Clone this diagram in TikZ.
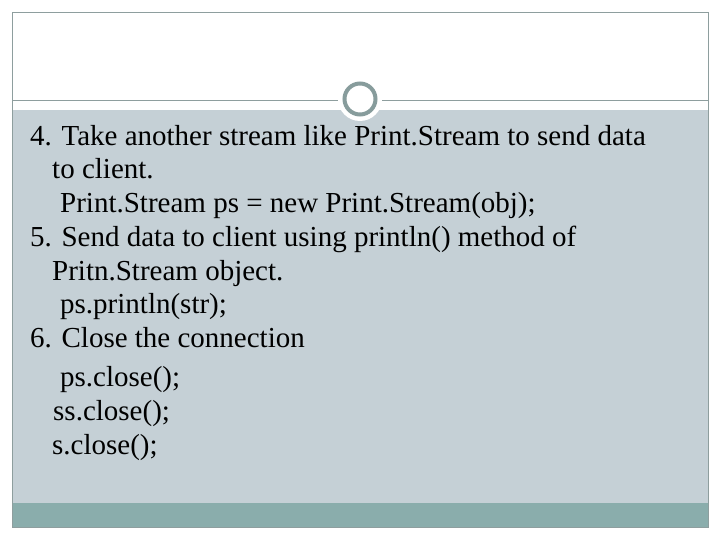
\documentclass[tikz,border=0pt]{standalone}
\usepackage{fontspec}
\setmainfont{Liberation Serif}
\definecolor{bodyc}{HTML}{C5D0D6}
\definecolor{barc}{HTML}{8AADAC}
\definecolor{ringc}{HTML}{879C9C}
\definecolor{edgec}{HTML}{8E9E9E}
\begin{document}
\begin{tikzpicture}[x=1pt,y=-1pt,
  ln/.style={anchor=base west,inner sep=0,font=\fontsize{29}{32}\selectfont}]
\useasboundingbox (0,0) rectangle (720,540);
\fill[white] (0,0) rectangle (720,540);
\fill[bodyc] (12,110) rectangle (708,503);
\fill[barc] (12,503) rectangle (708,527);
\draw[edgec,line width=0.8] (12,12) rectangle (708,527);
\draw[edgec,line width=0.8] (12,100) -- (708,100);
\fill[white] (360,99) circle (22);
\draw[ringc,line width=4] (360,99) circle (15.5);
\node[ln] (l1) at (30,146) {4. Take another stream like Print.Stream to send data};
\node[ln] (l2) at (52,179) {to client.};
\node[ln] (l3) at (60,213) {Print.Stream ps = new Print.Stream(obj);};
\node[ln] (l4) at (30,247) {5. Send data to client using println() method of};
\node[ln] (l5) at (52,280) {Pritn.Stream object.};
\node[ln] (l6) at (60,313) {ps.println(str);};
\node[ln] (l7) at (30,347) {6. Close the connection};
\node[ln] (l8) at (60,386) {ps.close();};
\node[ln] (l9) at (53,420) {ss.close();};
\node[ln] (l10) at (52,454) {s.close();};
\end{tikzpicture}
\end{document}
